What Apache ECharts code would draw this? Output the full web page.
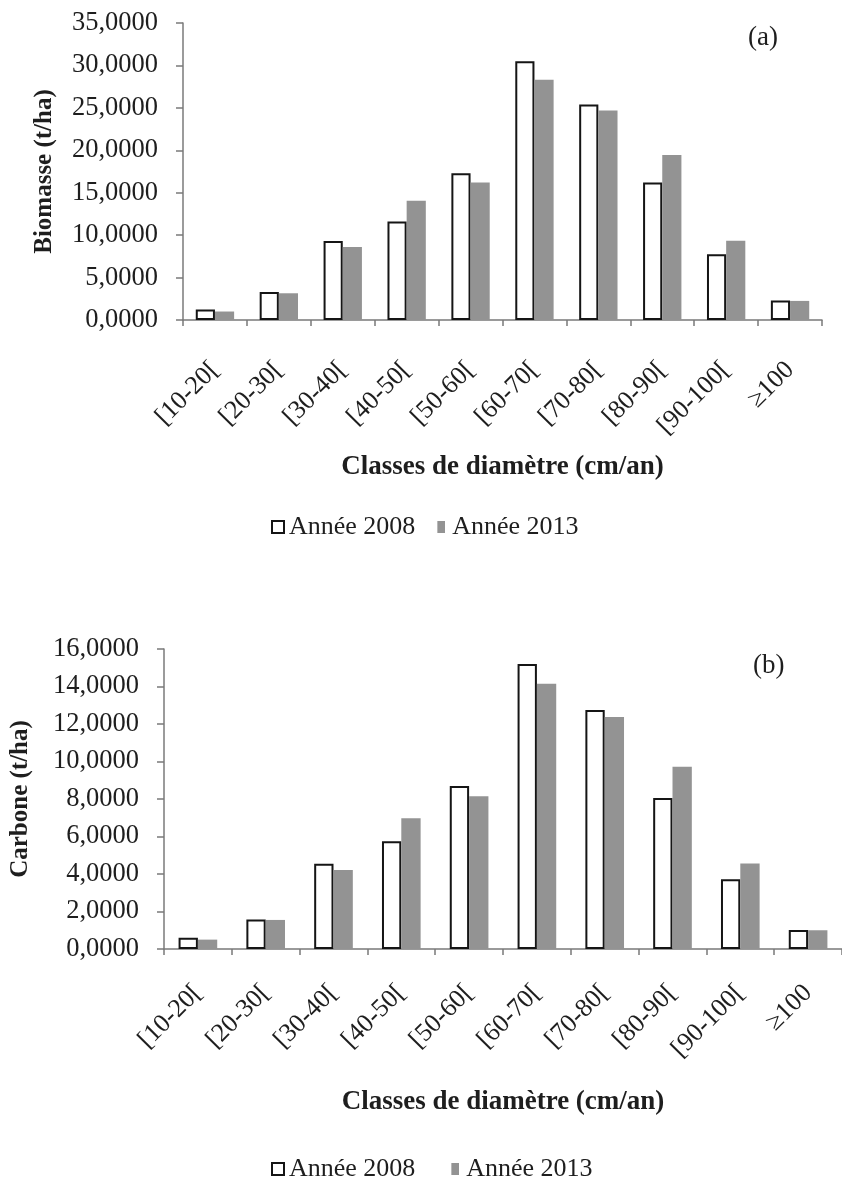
<!DOCTYPE html>
<html>
<head>
<meta charset="utf-8">
<script src="https://cdn.jsdelivr.net/npm/echarts@6/dist/echarts.min.js"></script>
<style>
  html, body { margin: 0; padding: 0; background: #ffffff; }
  #chart { width: 842px; height: 1181px; }
</style>
</head>
<body>
<div id="chart"></div>
<script>
// ---- data ----
const categories = ['[10-20[', '[20-30[', '[30-40[', '[40-50[', '[50-60[', '[60-70[', '[70-80[', '[80-90[', '[90-100[', '≥100'];
const seriesNames = ['Année 2008', 'Année 2013'];
const biomasse2008 = [1.25, 3.3, 9.3, 11.6, 17.3, 30.5, 25.4, 16.2, 7.75, 2.3];
const biomasse2013 = [1.0, 3.15, 8.6, 14.05, 16.2, 28.3, 24.7, 19.45, 9.35, 2.25];
const carbone2008 = [0.6, 1.57, 4.55, 5.75, 8.7, 15.2, 12.75, 8.05, 3.72, 1.02];
const carbone2013 = [0.5, 1.55, 4.22, 6.98, 8.15, 14.15, 12.38, 9.72, 4.56, 1.0];
const panelLabels = ['(a)', '(b)'];
const yTitles = ['Biomasse (t/ha)', 'Carbone (t/ha)'];
const xTitle = 'Classes de diamètre (cm/an)';

const FONT = 'Liberation Serif';
const TXT = '#1e1e1e';
const AXIS = '#7a7a7a';
const GRAY = '#939393';

const fmt = v => v.toFixed(4).replace('.', ',');

function xAxis(gridIndex, margin, nameGap) {
  return {
    type: 'category', gridIndex, data: categories,
    boundaryGap: true,
    axisLine: { show: true, lineStyle: { color: AXIS, width: 1.5 } },
    axisTick: { show: true, alignWithLabel: false, length: 6, lineStyle: { color: AXIS, width: 1.5 } },
    axisLabel: { rotate: 45, margin, interval: 0, fontFamily: FONT, fontSize: 26, color: TXT },
    name: xTitle, nameLocation: 'middle', nameGap,
    nameTextStyle: { fontFamily: FONT, fontSize: 27, fontWeight: 'bold', color: TXT }
  };
}
function yAxis(gridIndex, max, interval, name, nameGap) {
  return {
    type: 'value', gridIndex, min: 0, max, interval,
    axisLine: { show: true, lineStyle: { color: AXIS, width: 1.5 } },
    axisTick: { show: true, length: 7, lineStyle: { color: AXIS, width: 1.5 } },
    splitLine: { show: false },
    axisLabel: { formatter: fmt, margin: 25, fontFamily: FONT, fontSize: 26.5, color: TXT },
    name, nameLocation: 'middle', nameGap, nameRotate: 90,
    nameTextStyle: { fontFamily: FONT, fontSize: 25, fontWeight: 'bold', color: TXT }
  };
}
function whiteSeries(i, data, gap) {
  return {
    name: seriesNames[0], type: 'bar', xAxisIndex: i, yAxisIndex: i, data,
    barGap: '0%', barCategoryGap: gap,
    itemStyle: { color: '#ffffff', borderColor: '#151515', borderWidth: 2 },
    emphasis: { disabled: true }
  };
}
function graySeries(i, data, gap) {
  return {
    name: seriesNames[1], type: 'bar', xAxisIndex: i, yAxisIndex: i, data,
    barGap: '0%', barCategoryGap: gap,
    itemStyle: { color: GRAY },
    emphasis: { disabled: true }
  };
}
function legend(top, itemGap) {
  return {
    top, left: 271, itemGap, itemWidth: 12, itemHeight: 12, padding: 0,
    selectedMode: false,
    textStyle: { fontFamily: FONT, fontSize: 26, color: TXT },
    data: [
      { name: seriesNames[0], icon: 'rect' },
      { name: seriesNames[1], icon: 'path://M0,0H7V11H0Z' }
    ]
  };
}

const chart = echarts.init(document.getElementById('chart'), null, { renderer: 'canvas' });
chart.setOption({
  animation: false,
  backgroundColor: '#ffffff',
  grid: [
    { left: 183, top: 23, width: 639, height: 297 },
    { left: 164, top: 649, width: 684, height: 300 }
  ],
  xAxis: [xAxis(0, 46, 134), xAxis(1, 40, 140)],
  yAxis: [yAxis(0, 35, 5, yTitles[0], 126), yAxis(1, 16, 2, yTitles[1], 131)],
  legend: [legend(514, 22), legend(1156, 36)],
  title: [
    { text: panelLabels[0], left: 748, top: 24, padding: 0, textStyle: { fontFamily: FONT, fontSize: 27, fontWeight: 'normal', color: TXT } },
    { text: panelLabels[1], left: 753, top: 652, padding: 0, textStyle: { fontFamily: FONT, fontSize: 27, fontWeight: 'normal', color: TXT } }
  ],
  series: [
    whiteSeries(0, biomasse2008, '40%'),
    graySeries(0, biomasse2013, '40%'),
    whiteSeries(1, carbone2008, '43%'),
    graySeries(1, carbone2013, '43%')
  ]
});
</script>
</body>
</html>
